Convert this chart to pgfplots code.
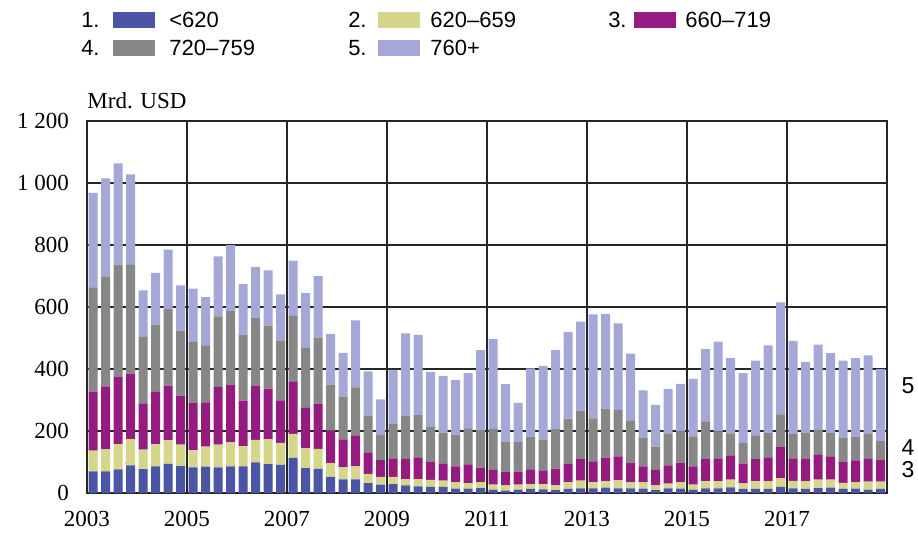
\documentclass[border=0pt]{standalone}
\usepackage{pgfplots}
\pgfplotsset{compat=1.18}
\usepackage{pgfplotstable}
\usepackage{fontspec}
\setmainfont{Liberation Serif}
\newfontfamily\lsans{Liberation Sans}
\definecolor{cA}{HTML}{4B55A5}
\definecolor{cB}{HTML}{D6D68A}
\definecolor{cC}{HTML}{961B80}
\definecolor{cD}{HTML}{878787}
\definecolor{cE}{HTML}{A3A8D6}
\pgfplotstableread{
x b1 b2 b3 b4 b5
2003.125 70 67 190 336 305
2003.375 70 71 203 355 316
2003.625 76 82 216 363 326
2003.875 89 85 211 351 292
2004.125 77 63 149 215 150
2004.375 86 71 169 217 167
2004.625 94 76 176 247 192
2004.875 87 69 158 210 146
2005.125 83 55 152 199 170
2005.375 85 65 142 184 156
2005.625 83 73 186 228 193
2005.875 86 77 185 239 213
2006.125 86 65 147 213 163
2006.375 99 72 174 221 163
2006.625 93 80 164 203 178
2006.875 91 71 137 193 149
2007.125 113 78 169 211 179
2007.375 80 64 131 193 177
2007.625 78 64 146 213 199
2007.875 52 44 105 149 163
2008.125 44 39 90 138 141
2008.375 44 42 98 157 216
2008.625 32 30 69 119 142
2008.875 27 25 54 83 113
2009.125 29 23 60 112 173
2009.375 25 20 64 141 265
2009.625 21 24 70 138 257
2009.875 20 22 58 115 176
2010.125 20 20 54 101 183
2010.375 14 20 52 102 177
2010.625 14 18 60 115 180
2010.875 16 19 47 121 258
2011.125 11 16 48 132 289
2011.375 8 17 42 97 187
2011.625 11 16 42 95 127
2011.875 13 16 47 106 220
2012.125 12 17 44 100 237
2012.375 9 16 54 129 253
2012.625 13 22 59 146 279
2012.875 15 25 69 157 287
2013.125 15 19 68 139 335
2013.375 17 21 76 158 305
2013.625 15 26 77 150 279
2013.875 15 19 64 135 217
2014.125 14 20 52 91 154
2014.375 9 16 50 75 134
2014.625 15 15 59 103 144
2014.875 14 21 63 100 154
2015.125 11 16 59 97 185
2015.375 15 23 71 122 233
2015.625 15 23 74 87 289
2015.875 18 25 78 71 243
2016.125 13 18 64 66 226
2016.375 13 25 71 75 243
2016.625 13 25 77 78 283
2016.875 20 28 100 106 361
2017.125 15 24 73 78 301
2017.375 13 25 71 84 229
2017.625 16 27 82 80 274
2017.875 17 26 75 75 258
2018.125 13 20 67 77 250
2018.375 14 20 71 75 255
2018.625 11 26 73 81 253
2018.875 13 24 69 61 233
}\data
\begin{document}
\fontsize{11.5}{13}\selectfont
\begin{tikzpicture}
\useasboundingbox (-43.5pt,-19.5pt) rectangle (415.5pt,246.5pt);
\begin{axis}[
  at={(0,0)}, anchor=south west,
  scale only axis, width=400pt, height=186pt,
  xmin=2003, xmax=2019, ymin=0, ymax=1200,
  ybar stacked, bar width=4.5pt,
  xtick={2003,2005,...,2017},
  ytick={0,200,400,600,800,1200},
  extra y ticks={1000},
  extra y tick style={grid style={draw=black!50, line width=0.7pt}},
  grid=major,
  major grid style={draw=black!85, line width=0.6pt},
  axis line style={draw=black!85, line width=0.8pt},
  tick style={draw=none},
  /pgf/number format/assume math mode=true,
  xticklabel style={/pgf/number format/1000 sep={}, yshift=-5pt, font=\fontsize{11.5}{13}\selectfont},
  yticklabel style={/pgf/number format/1000 sep={\ }, xshift=-5pt, font=\fontsize{11.5}{13}\selectfont},
  clip=false,
]
\addplot[fill=cA, draw=none] table[x=x, y=b1] {\data};
\addplot[fill=cB, draw=none] table[x=x, y=b2] {\data};
\addplot[fill=cC, draw=none] table[x=x, y=b3] {\data};
\addplot[fill=cD, draw=none] table[x=x, y=b4] {\data};
\addplot[fill=cE, draw=none] table[x=x, y=b5] {\data};
\node[anchor=base west, inner sep=0pt] at (rel axis cs:0,1) [yshift=6.5pt] {Mrd. USD};
\node[text=white, inner sep=0pt] at (axis cs:2003.875,29) {1};
\node[text=black, inner sep=0pt] at (axis cs:2003.875,116) {2};
\node[inner sep=0pt, font=\lsans] at (axis cs:2019,345) [xshift=10.5pt] {5};
\node[inner sep=0pt, font=\lsans] at (axis cs:2019,148) [xshift=10.5pt] {4};
\node[inner sep=0pt, font=\lsans] at (axis cs:2019,77) [xshift=10.5pt] {3};
\end{axis}
\begin{scope}[font=\lsans\fontsize{11}{13}\selectfont]
% row 1
\node[anchor=east, inner sep=0pt] at (6.5pt,236.5pt) {1.};
\fill[cA] (13pt,232.5pt) rectangle (34pt,240.5pt);
\node[anchor=west, inner sep=0pt] at (41pt,236.5pt) {<620};
\node[anchor=east, inner sep=0pt] at (140pt,236.5pt) {2.};
\fill[cB] (145.5pt,232.5pt) rectangle (166.5pt,240.5pt);
\node[anchor=west, inner sep=0pt] at (171.5pt,236.5pt) {620–659};
\node[anchor=east, inner sep=0pt] at (270pt,236.5pt) {3.};
\fill[cC] (273.5pt,232.5pt) rectangle (294.5pt,240.5pt);
\node[anchor=west, inner sep=0pt] at (299pt,236.5pt) {660–719};
% row 2
\node[anchor=east, inner sep=0pt] at (6.5pt,222.5pt) {4.};
\fill[cD] (13pt,218.5pt) rectangle (34pt,226.5pt);
\node[anchor=west, inner sep=0pt] at (41pt,222.5pt) {720–759};
\node[anchor=east, inner sep=0pt] at (140pt,222.5pt) {5.};
\fill[cE] (145.5pt,218.5pt) rectangle (166.5pt,226.5pt);
\node[anchor=west, inner sep=0pt] at (171.5pt,222.5pt) {760+};
\end{scope}
\end{tikzpicture}
\end{document}
